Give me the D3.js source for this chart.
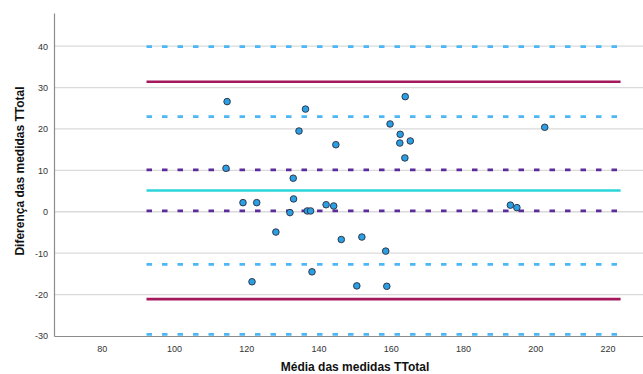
<!DOCTYPE html>
<html><head><meta charset="utf-8">
<script src="https://cdn.jsdelivr.net/npm/d3@7"></script>
<style>body{margin:0;background:#fff}svg{display:block}</style>
</head><body><svg id="c" width="643" height="374"></svg>
<script>
const meanVals = [114.7,136.4,164.0,159.8,134.6,162.6,162.5,165.4,144.8,163.9,114.4,133.0,119.1,122.9,133.1,132.1,136.9,137.8,142.1,144.2,128.2,146.3,152.0,158.6,138.2,121.6,150.6,158.9,202.6,193.1,194.9];
const diffVals = [26.6,24.8,27.8,21.2,19.5,18.7,16.6,17.1,16.2,13.0,10.5,8.1,2.2,2.2,3.1,-0.2,0.2,0.2,1.7,1.4,-4.9,-6.7,-6.1,-9.5,-14.5,-16.9,-17.9,-18.0,20.4,1.6,1.0];
const xTicks = [80,100,120,140,160,180,200,220];
const yTicks = [-30,-20,-10,0,10,20,30,40];
const meanDiff = 5.15;
const limits = [31.4,-21.1];
const ciMean = [0.2,10.1];
const ciLimits = [23.0,39.9,-12.7,-29.6];
const lineSpan = [92.4,223.6];
const xLabel = "Média das medidas TTotal";
const yLabel = "Diferença das medidas TTotal";

const svg = d3.select("#c");
const x = d3.scaleLinear().domain([66.8,229.8]).range([54,643]);
const y = d3.scaleLinear().domain([-30,48]).range([336,13]);

// gridlines
svg.append("g").selectAll("line").data(yTicks.filter(d=>d!==-30)).join("line")
  .attr("x1",54).attr("x2",643).attr("y1",d=>y(d)).attr("y2",d=>y(d))
  .attr("stroke","#dadada").attr("stroke-width",1.3);

// axes
const xa = svg.append("g").attr("transform",`translate(0,${y(-30)})`)
  .call(d3.axisBottom(x).tickValues(xTicks).tickSize(0).tickPadding(10).tickFormat(d=>String(d)));
const ya = svg.append("g").attr("transform",`translate(${x(66.8)},0)`)
  .call(d3.axisLeft(y).tickValues(yTicks).tickSize(0).tickPadding(6).tickFormat(d=>String(d)));
[xa,ya].forEach(a=>{
  a.select(".domain").attr("stroke","#8c8c8c").attr("stroke-width",1.2);
  a.selectAll("text").attr("fill","#333").style("font-family","Arial, 'Liberation Sans', sans-serif").style("font-size","9px");
});

function hline(v, color, w, dash){
  svg.append("line").attr("x1",x(lineSpan[0])).attr("x2",x(lineSpan[1]))
    .attr("y1",y(v)).attr("y2",y(v)).attr("stroke",color).attr("stroke-width",w)
    .attr("stroke-dasharray",dash||null);
}
ciLimits.forEach(v=>hline(v,"#4cb6f7",2.8,"5.5,10"));
ciMean.forEach(v=>hline(v,"#5a2d9a",2.8,"5.5,10"));
limits.forEach(v=>hline(v,"#a3195b",2.6));
hline(meanDiff,"#2bd4d8",2.6);

// points
svg.append("g").selectAll("circle").data(meanVals.map((m,i)=>[m,diffVals[i]])).join("circle")
  .attr("cx",d=>x(d[0])).attr("cy",d=>y(d[1])).attr("r",3.3)
  .attr("fill","#2a9fe4").attr("stroke","#2b2b3a").attr("stroke-width",0.9);

// titles
svg.append("text").attr("x",355).attr("y",371).attr("text-anchor","middle")
  .style("font-family","Arial, 'Liberation Sans', sans-serif").style("font-size","12px").style("font-weight","bold")
  .attr("fill","#111").text(xLabel);
svg.append("text").attr("transform","translate(24,171) rotate(-90)").attr("text-anchor","middle")
  .style("font-family","Arial, 'Liberation Sans', sans-serif").style("font-size","12px").style("font-weight","bold")
  .attr("fill","#111").text(yLabel);
</script></body></html>
